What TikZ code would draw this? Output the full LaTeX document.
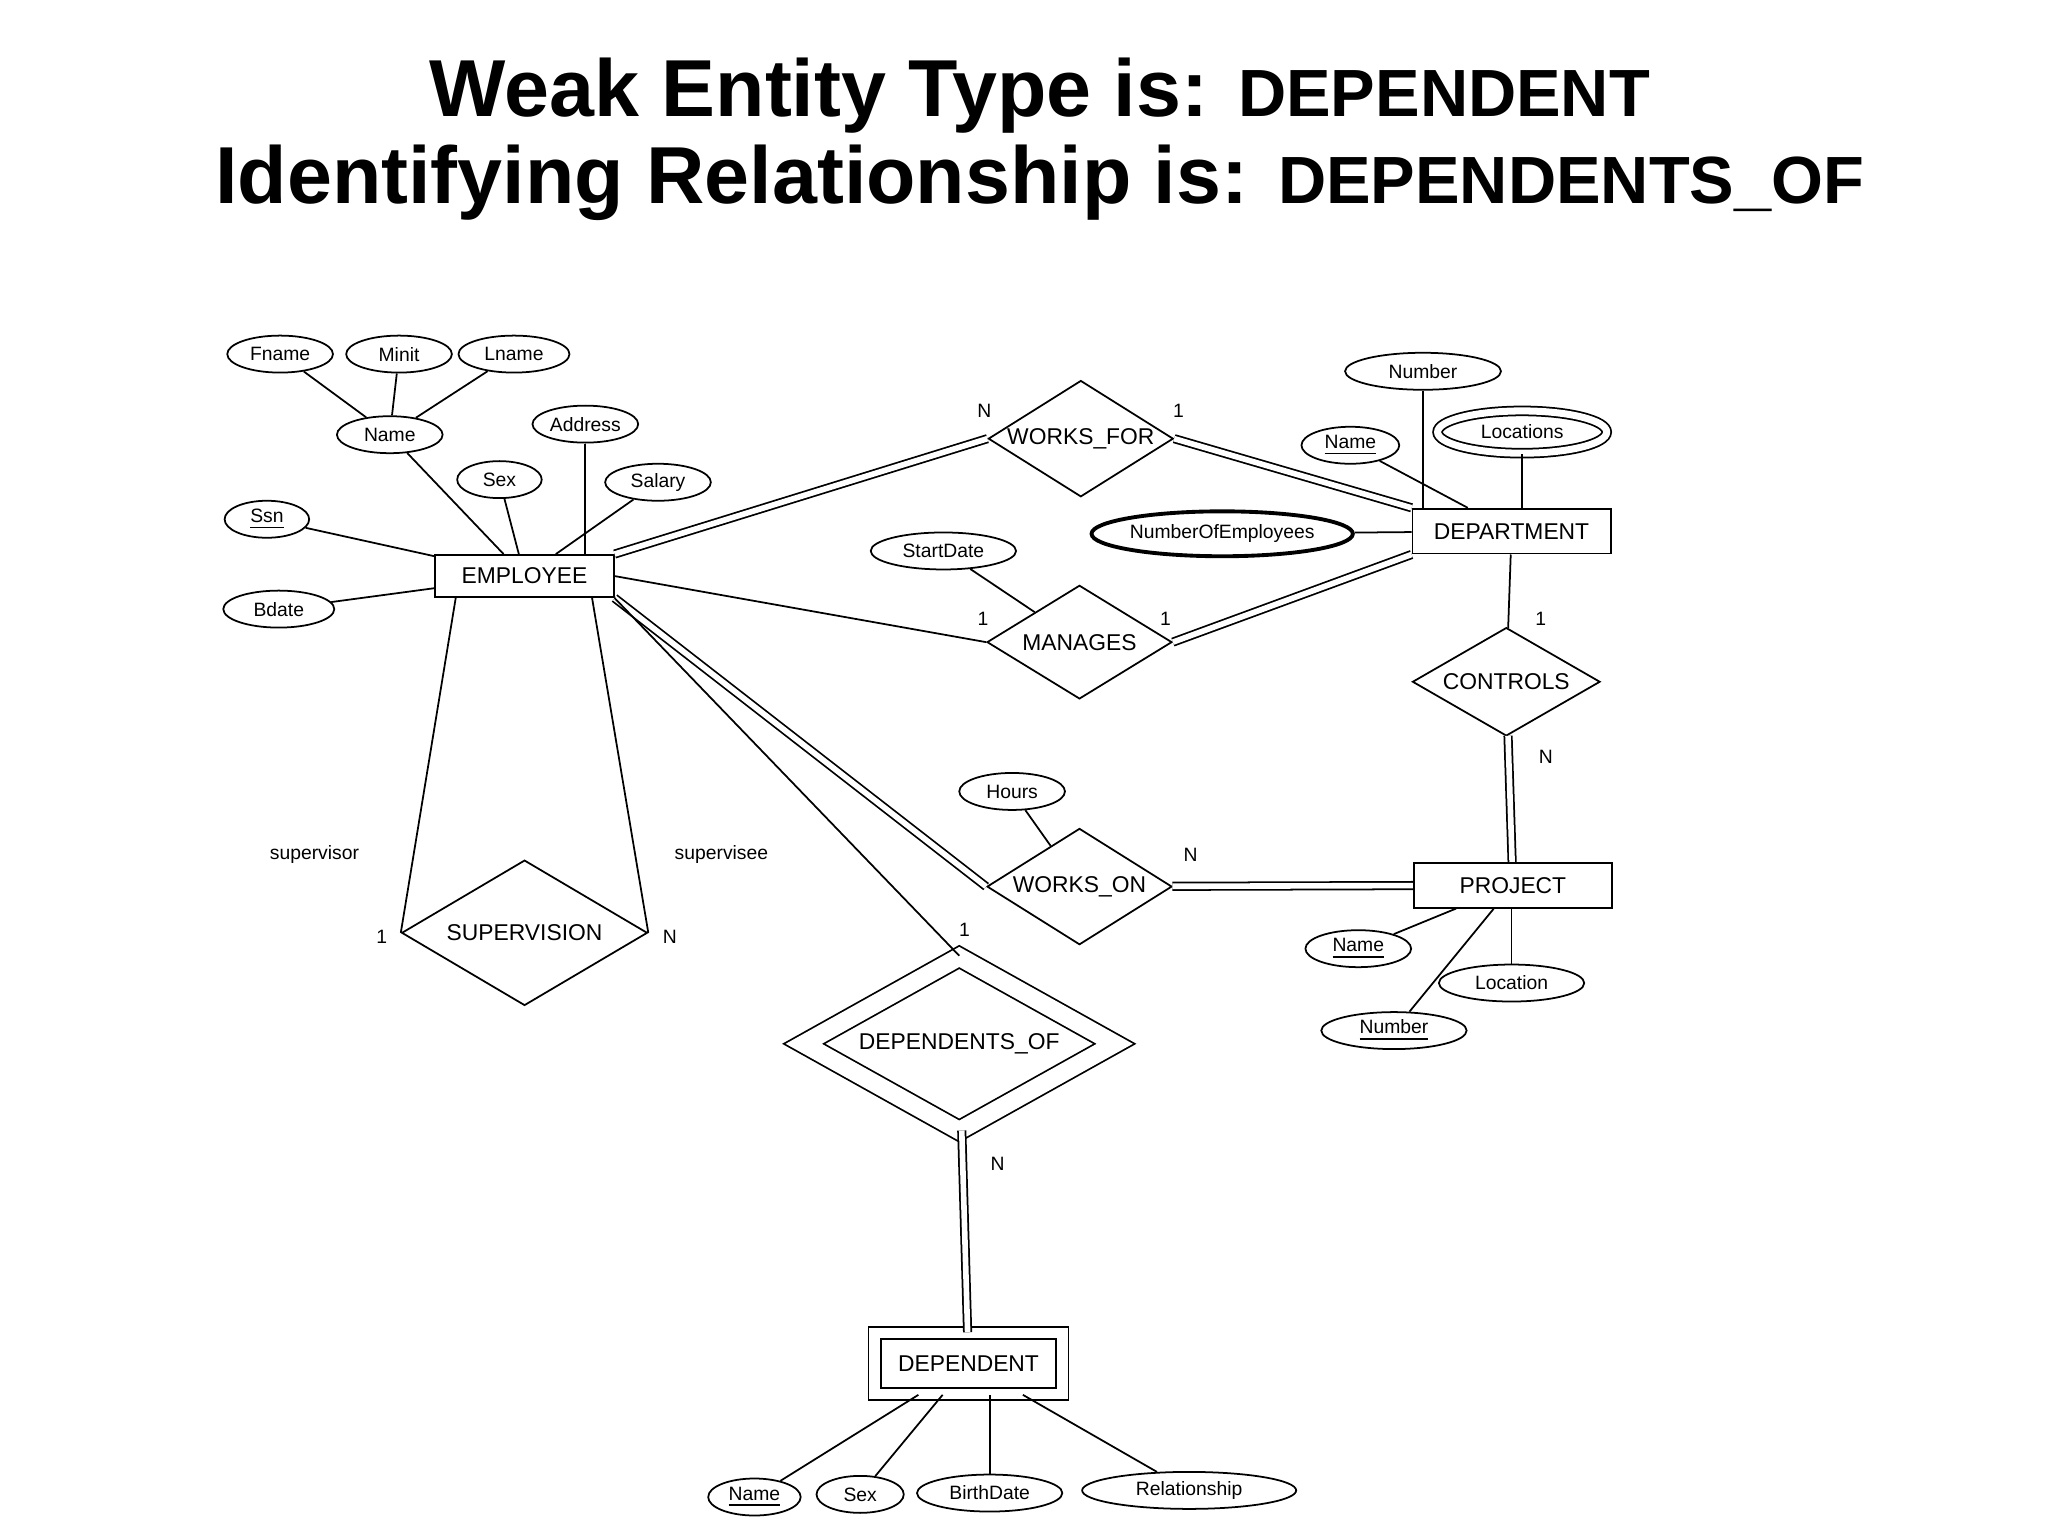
\documentclass[tikz,border=0pt]{standalone}
\usepackage{fontspec}
\setmainfont{Liberation Sans}
\usetikzlibrary{shapes.geometric}
\def\u{0.013213cm}
\tikzset{
 ent/.style={draw,rectangle,inner sep=0pt,font=\fontsize{6.5}{7}\selectfont},
 rel/.style={draw,diamond,inner sep=0pt,label={[font=\fontsize{6.5}{7}\selectfont]center:#1}},
 att/.style={draw,ellipse,inner sep=0pt,minimum height={28*\u},font=\fontsize{5.5}{6}\selectfont},
 dbl/.style={double,double distance=1.6pt},
 lab/.style={font=\fontsize{5.5}{6}\selectfont},
 every path/.style={line width=0.5pt}
}
\begin{document}
\begin{tikzpicture}[x=\u,y=-\u]
\useasboundingbox (0,0) rectangle (1550,1162);
\node (t1) at (787,72) {\bfseries\fontsize{23}{26}\selectfont Weak Entity Type is: \fontsize{19}{26}\selectfont DEPENDENT};
\node (t2) at (787,138) {\bfseries\fontsize{23}{26}\selectfont Identifying Relationship is: \fontsize{19}{26}\selectfont DEPENDENTS\_OF};
% entities
\node[ent,minimum width={135*\u},minimum height={32*\u}] (emp) at (397,436) {EMPLOYEE};
\node[ent,minimum width={150*\u},minimum height={34*\u}] (dept) at (1144,402) {DEPARTMENT};
\node[ent,minimum width={150*\u},minimum height={34*\u}] (proj) at (1145,670) {PROJECT};
\node[ent,double,double distance=3pt,minimum width={142*\u},minimum height={46*\u}] (dep) at (733,1032) {DEPENDENT};
% relationships
\node[rel=WORKS\_FOR,minimum width={140*\u},minimum height={88*\u}] (wf) at (818,332) {};
\node[rel=MANAGES,minimum width={140*\u},minimum height={86*\u}] (man) at (817,486) {};
\node[rel=CONTROLS,minimum width={142*\u},minimum height={82*\u}] (con) at (1140,516) {};
\node[rel=WORKS\_ON,minimum width={140*\u},minimum height={88*\u}] (wo) at (817,671) {};
\node[rel=SUPERVISION,minimum width={186*\u},minimum height={110*\u}] (sup) at (397,706) {};
\node[rel=DEPENDENTS\_OF,double,double distance=5pt,minimum width={236*\u},minimum height={132*\u}] (dof) at (726,790) {};
% attributes
\node[att,minimum width={80*\u}] (fname) at (212,268) {Fname};
\node[att,minimum width={80*\u}] (minit) at (302,268) {Minit};
\node[att,minimum width={84*\u}] (lname) at (389,268) {Lname};
\node[att,minimum width={80*\u}] (ename) at (295,329) {Name};
\node[att,minimum width={80*\u}] (addr) at (443,321) {Address};
\node[att,minimum width={64*\u}] (esex) at (378,363) {Sex};
\node[att,minimum width={80*\u}] (sal) at (498,365) {Salary};
\node[att,minimum width={64*\u}] (ssn) at (202,393) {\underline{Ssn}};
\node[att,minimum width={84*\u}] (bdate) at (211,461) {Bdate};
\node[att,minimum width={118*\u}] (dnum) at (1077,281) {Number};
\node[att,minimum width={74*\u}] (dname) at (1022,337) {\underline{Name}};
\node[att,double,double distance=2pt,minimum width={128*\u},minimum height={32*\u}] (loc) at (1152,327) {Locations};
\node[att,line width=1.1pt,minimum width={192*\u},minimum height={34*\u}] (noe) at (925,404) {NumberOfEmployees};
\node[att,minimum width={110*\u}] (sd) at (714,417) {StartDate};
\node[att,minimum width={80*\u}] (hours) at (766,599) {Hours};
\node[att,minimum width={80*\u}] (pname) at (1028,718) {\underline{Name}};
\node[att,minimum width={110*\u}] (ploc) at (1144,744) {Location};
\node[att,minimum width={110*\u}] (pnum) at (1055,780) {\underline{Number}};
\node[att,minimum width={70*\u}] (depname) at (571,1133) {\underline{Name}};
\node[att,minimum width={66*\u}] (depsex) at (651,1131) {Sex};
\node[att,minimum width={110*\u}] (bd) at (749,1130) {BirthDate};
\node[att,minimum width={162*\u}] (rs) at (900,1128) {Relationship};
% attribute links
\draw (fname) -- (ename); \draw (minit) -- (ename); \draw (lname) -- (ename);
\draw (ename) -- (emp); \draw (esex) -- (emp); \draw (addr) -- (addr|-emp.north);
\draw (sal) -- (emp); \draw (ssn) -- (emp); \draw (bdate) -- (emp);
\draw (dnum) -- (dnum|-dept.north); \draw (dname) -- (dept); \draw (loc) -- (loc|-dept.north); \draw (noe) -- (dept);
\draw (sd) -- (man); \draw (hours) -- (wo);
\draw (pname) -- (proj); \draw (ploc) -- (ploc|-proj.south); \draw (pnum) -- (proj);
\draw (depname) -- (dep); \draw (depsex) -- (dep); \draw (bd) -- (bd|-dep.south); \draw (rs) -- (dep);
% relationship links
\draw[dbl] (emp.north east) -- (wf.west);
\draw[dbl] (wf.east) -- (dept.north west);
\draw (emp.east) -- (man.west);
\draw[dbl] (man.east) -- (dept.south west);
\draw (dept) -- (con);
\draw[dbl] (con) -- (proj);
\draw[dbl] (emp.south east) -- (wo.west);
\draw[dbl] (wo) -- (proj);
\draw (emp.south east) -- (dof.north);
\draw[dbl] (dof) -- (dep);
\coordinate (sl) at (345,452); \coordinate (sr) at (448,452);
\draw (sl) -- (sup.west); \draw (sr) -- (sup.east);
% labels
\node[lab] (l1) at (745,311) {N}; \node[lab] (l2) at (892,311) {1};
\node[lab] (l3) at (744,468) {1}; \node[lab] (l4) at (882,468) {1};
\node[lab] (l5) at (1166,468) {1}; \node[lab] (l6) at (1170,573) {N};
\node[lab] (l7) at (901,647) {N}; \node[lab] (l8) at (730,704) {1};
\node[lab] (l9) at (755,881) {N};
\node[lab] (l10) at (238,647) {supervisor}; \node[lab] (l11) at (546,647) {supervisee};
\node[lab] (l12) at (289,709) {1}; \node[lab] (l13) at (507,709) {N};
\end{tikzpicture}
\end{document}
